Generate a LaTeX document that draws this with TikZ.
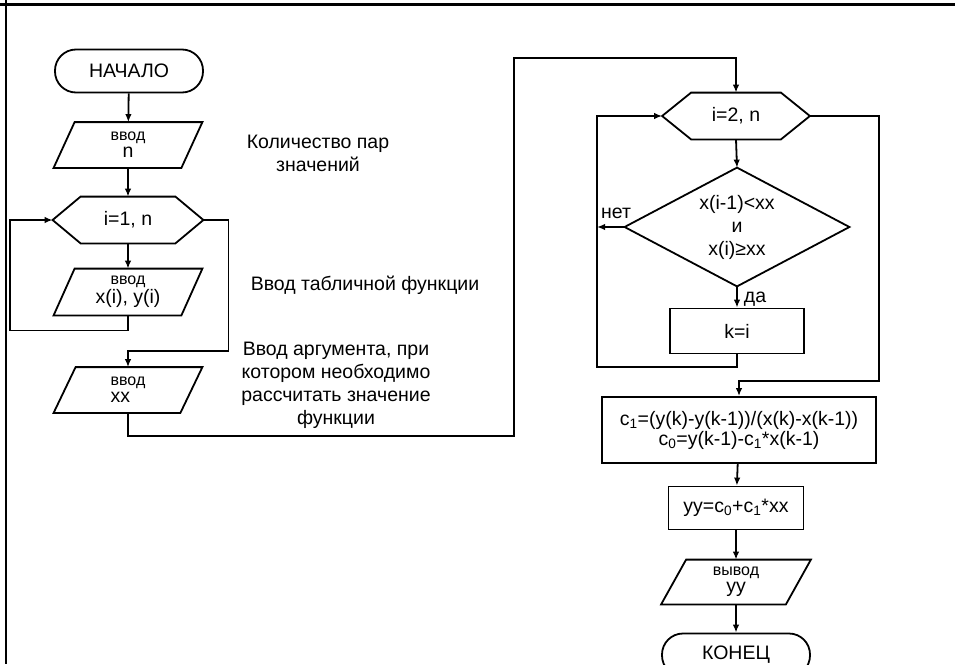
\documentclass[tikz,border=0pt]{standalone}
\usepackage{fontspec}
\setmainfont{Liberation Sans}
\usetikzlibrary{arrows.meta}
\newcommand\paraout[2]{\draw (#1.south west) -- ([xshift=#2]#1.north west) -- (#1.north east) -- ([xshift=-#2]#1.south east) -- cycle;}
\newcommand\hexout[2]{\draw (#1.west) -- ([xshift=#2]#1.north west) -- ([xshift=-#2]#1.north east) -- (#1.east) -- ([xshift=-#2]#1.south east) -- ([xshift=#2]#1.south west) -- cycle;}
\newcommand\smtxt{\fontsize{16}{16}\selectfont}
\begin{document}
\begin{tikzpicture}[x=1pt,y=-1pt,line width=1.8pt,
  every node/.style={font=\fontsize{19.5}{23}\selectfont},
  term/.style={draw,rounded corners=21pt,minimum width=148pt,minimum height=43pt,inner sep=0pt},
  ghost/.style={inner sep=0pt,align=center},
  proc/.style={draw,inner sep=0pt,align=center},
  lbl/.style={align=center,inner sep=0pt},
  arr/.style={-{Latex[length=8pt,width=6.5pt]}}]
\clip (0,0) rectangle (955,664);
% frame
\draw[line width=3pt] (0,4) -- (955,4);
\draw[line width=2pt] (6,0) -- (6,664);
% left column
\node[term] (start) at (129,71) {НАЧАЛО};
\node[ghost,minimum width=147pt,minimum height=44pt] (inn) at (128,145) {{\smtxt ввод}\\[-6pt]n};
\paraout{inn}{21pt}
\node[ghost,minimum width=149pt,minimum height=45pt] (h1) at (128,220) {i=1, n};
\hexout{h1}{28pt}
\node[ghost,minimum width=147pt,minimum height=45pt] (inxy) at (128,292) {{\smtxt ввод}\\[-4pt]x(i), y(i)};
\paraout{inxy}{21pt}
\node[ghost,minimum width=147pt,minimum height=44pt,align=left] (inxx) at (128,390) {{\smtxt ввод}\\[-6pt]xx};
\paraout{inxx}{22pt}
% notes
\node[lbl] (n1) at (318,153) {Количество пар\\значений};
\node[lbl] (n2) at (365,285) {Ввод табличной функции};
\node[lbl] (n3) at (336,385) {Ввод аргумента, при\\котором необходимо\\рассчитать значение\\функции};
% right column
\node[ghost,minimum width=146pt,minimum height=45pt] (h2) at (736,116) {i=2, n};
\hexout{h2}{29pt}
\node[ghost,minimum width=223pt,minimum height=117pt] (dia) at (737,227) {x(i-1)<xx\\и\\x(i)≥xx};
\draw (dia.north) -- (dia.east) -- (dia.south) -- (dia.west) -- cycle;
\node[proc,minimum width=134pt,minimum height=45pt] (kbox) at (737,331) {k=i};
\node[proc,minimum width=274pt,minimum height=66pt] (cbox) at (739,430) {c\textsubscript{1}=(y(k)-y(k-1))/(x(k)-x(k-1))\\[-3pt]c\textsubscript{0}=y(k-1)-c\textsubscript{1}*x(k-1)};
\node[proc,minimum width=135pt,minimum height=43pt] (yybox) at (736,508) {yy=c\textsubscript{0}+c\textsubscript{1}*xx};
\node[ghost,minimum width=148pt,minimum height=43pt] (out) at (736,582) {{\smtxt вывод}\\[-6pt]yy};
\paraout{out}{25pt}
\node[term] (fin) at (736,655) {КОНЕЦ};
\node[lbl] (no) at (616,213) {нет};
\node[lbl] (yes) at (755,299) {да};
\coordinate (loopL) at (597,367);
% connectors
\draw[arr] (start) -- (inn);
\draw[arr] (inn) -- (h1);
\draw[arr] (h1) -- (inxy);
\draw[arr] (inxy.south) -- ++(0,15) -| ([xshift=-43pt]h1.west) -- (h1.west);
\draw[arr] (h1.east) -- ++(25,0) |- ([yshift=16pt]inxx.north) -- (inxx.north);
\draw[arr] (inxx.south) -- ++(0,23) -- ++(386,0) |- ([yshift=35pt]h2.north) -- (h2.north);
\draw[arr] (h2.south) -- (dia.north);
\draw[arr] (dia.south) -- (kbox.north);
\draw[arr] (dia.west) -- (dia.west -| loopL);
\draw[arr] (kbox.south) |- (loopL) |- (h2.west);
\draw[arr] (h2.east) -- ++(69,0) |- ([yshift=15pt]cbox.north) -- (cbox.north);
\draw[arr] (cbox) -- (yybox);
\draw[arr] (yybox) -- (out);
\draw[arr] (out) -- (fin);
\end{tikzpicture}
\end{document}
